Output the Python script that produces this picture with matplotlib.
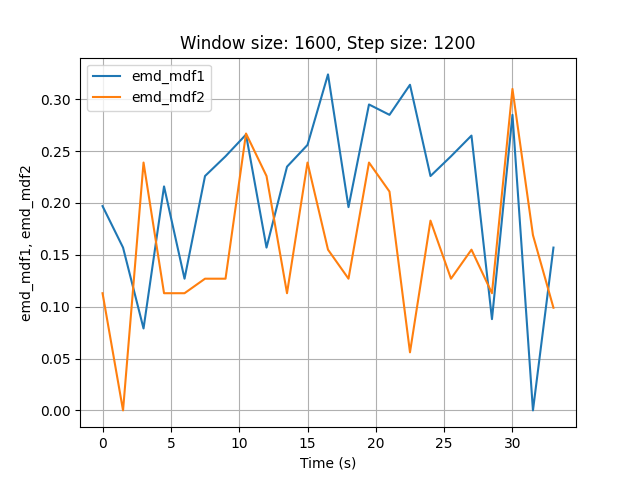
import matplotlib
matplotlib.use("Agg")
import matplotlib.pyplot as plt

time_s = [i * 1.5 for i in range(23)]
emd_mdf1 = [0.197, 0.157, 0.079, 0.216, 0.127, 0.226, 0.245, 0.266, 0.157, 0.235,
            0.256, 0.324, 0.196, 0.295, 0.285, 0.314, 0.226, 0.245, 0.265, 0.088,
            0.285, 0.0, 0.157]
emd_mdf2 = [0.113, 0.0, 0.239, 0.113, 0.113, 0.127, 0.127, 0.267, 0.226, 0.113,
            0.239, 0.155, 0.127, 0.239, 0.211, 0.056, 0.183, 0.127, 0.155, 0.113,
            0.310, 0.169, 0.099]

fig, ax = plt.subplots(figsize=(6.4, 4.8), dpi=100)
ax.plot(time_s, emd_mdf1, label="emd_mdf1")
ax.plot(time_s, emd_mdf2, label="emd_mdf2")
ax.set_title("Window size: 1600, Step size: 1200")
ax.set_xlabel("Time (s)")
ax.set_ylabel("emd_mdf1, emd_mdf2")
ax.grid(True)
ax.legend(loc="upper left")
fig.savefig("out.png")
